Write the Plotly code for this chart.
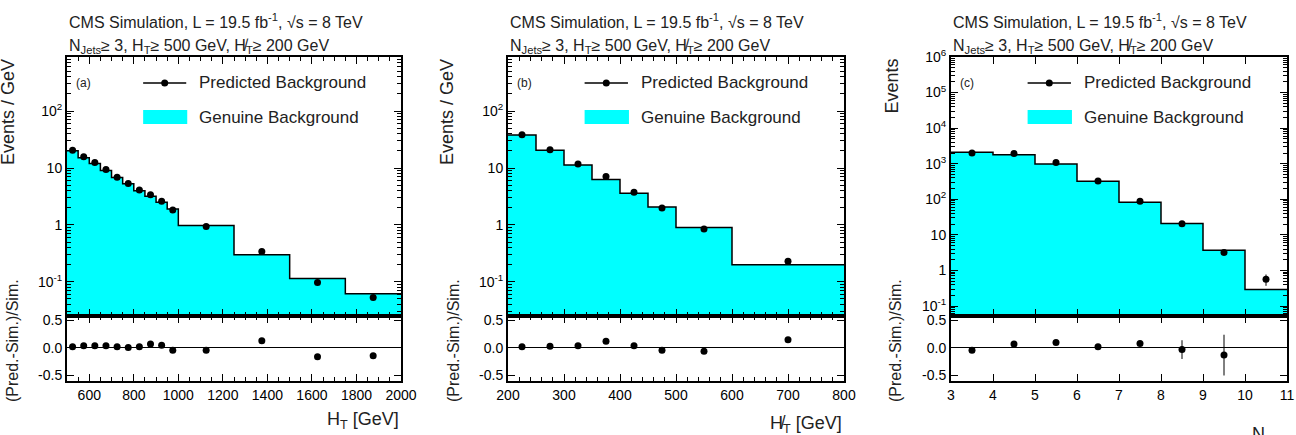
import numpy as np
import plotly.graph_objects as go

# ---------------- data ----------------
# Panel (a): H_T
ht_edges = [500, 550, 600, 650, 700, 750, 800, 850, 900, 950, 1000, 1250, 1500, 1750, 2000]
ht_genuine = [20, 15.2, 12.0, 9.0, 6.8, 5.3, 4.0, 3.2, 2.5, 1.9, 0.98, 0.30, 0.115, 0.062]
ht_predicted = [20.4, 15.8, 12.5, 9.4, 6.9, 5.35, 4.1, 3.4, 2.6, 1.82, 0.94, 0.34, 0.097, 0.053]
ht_pred_err = [0.3, 0.2, 0.2, 0.15, 0.1, 0.08, 0.06, 0.05, 0.04, 0.03, 0.01, 0.005, 0.002, 0.002]
ht_ratio = [0.02, 0.04, 0.04, 0.04, 0.02, 0.01, 0.02, 0.07, 0.05, -0.04, -0.04, 0.13, -0.16, -0.14]
ht_ratio_err = [0.01, 0.01, 0.01, 0.01, 0.01, 0.01, 0.01, 0.01, 0.01, 0.01, 0.01, 0.02, 0.04, 0.05]

# Panel (b): missing H_T
mht_edges = [200, 250, 300, 350, 400, 450, 500, 600, 800]
mht_genuine = [38, 20.4, 11.3, 6.3, 3.6, 2.07, 0.90, 0.20]
mht_predicted = [38.5, 20.9, 11.7, 7.1, 3.75, 1.99, 0.85, 0.23]
mht_pred_err = [0.4, 0.2, 0.1, 0.08, 0.04, 0.02, 0.01, 0.004]
mht_ratio = [0.02, 0.03, 0.04, 0.12, 0.04, -0.04, -0.06, 0.15]
mht_ratio_err = [0.01, 0.01, 0.01, 0.01, 0.01, 0.01, 0.01, 0.02]

# Panel (c): N_Jets
nj_edges = [3, 4, 5, 6, 7, 8, 9, 10, 11]
nj_genuine = [2100, 1800, 990, 320, 82, 21, 3.7, 0.29]
nj_predicted = [2000, 1930, 1090, 325, 88, 20.4, 3.2, 0.57]
nj_pred_err = [15, 15, 10, 5, 2, 1, 0.5, 0.2]
nj_ratio = [-0.04, 0.07, 0.10, 0.02, 0.08, -0.03, -0.13]
nj_ratio_err = [0.01, 0.01, 0.01, 0.01, 0.02, 0.17, 0.37]

y_ticks_ab = [0.1, 1, 10, 100]
y_ticktext_ab = ["10<sup>-1</sup>", "1", "10", "10<sup>2</sup>"]
y_ticks_c = [0.1, 1, 10, 100, 1e3, 1e4, 1e5, 1e6]
y_ticktext_c = ["10<sup>-1</sup>", "1", "10", "10<sup>2</sup>", "10<sup>3</sup>",
                "10<sup>4</sup>", "10<sup>5</sup>", "10<sup>6</sup>"]
ratio_ticks = [-0.5, 0.0, 0.5]
ratio_ticktext = ["-0.5", "0.0", "0.5"]

title1 = "CMS Simulation, L = 19.5 fb<sup>-1</sup>, \u221As = 8 TeV"
title2 = "N<sub>Jets</sub>\u2265 3, H<sub>T</sub>\u2265 500 GeV, H\u0338<sub>T</sub>\u2265 200 GeV"

FONT = "Liberation Sans, Arial, Helvetica, sans-serif"
CYAN = "#00ffff"

# ---------------- layout geometry ----------------
W, H = 1296, 435
def px(x):
    return x / W
def py(y):
    return (H - y) / H

xdomains = [[px(67), px(401)], [px(508), px(844)], [px(951), px(1287)]]
y_up = [py(316), py(57)]
y_lo = [py(381), py(316)]

panels = [
    dict(edges=ht_edges, gen=ht_genuine, pred=ht_predicted, perr=ht_pred_err,
         ratio=ht_ratio, rerr=ht_ratio_err, xr=[500, 2000], dtick=200, minor=50,
         yr=[-1.6, 2.95], yt=y_ticks_ab, ytt=y_ticktext_ab, tag="(a)",
         ytitle="Events / GeV", ytx=8, lytx=12),
    dict(edges=mht_edges, gen=mht_genuine, pred=mht_predicted, perr=mht_pred_err,
         ratio=mht_ratio, rerr=mht_ratio_err, xr=[200, 800], dtick=100, minor=20,
         yr=[-1.6, 2.95], yt=y_ticks_ab, ytt=y_ticktext_ab, tag="(b)",
         ytitle="Events / GeV", ytx=447, lytx=453),
    dict(edges=nj_edges, gen=nj_genuine, pred=nj_predicted, perr=nj_pred_err,
         ratio=nj_ratio, rerr=nj_ratio_err, xr=[3, 11], dtick=1, minor=None,
         yr=[-1.28, 6.0], yt=y_ticks_c, ytt=y_ticktext_c, tag="(c)",
         ytitle="Events", ytx=891, lytx=895),
]

log_minor = [m * 10.0 ** k for k in range(-2, 7) for m in range(2, 10)]

fig = go.Figure()
layout = dict(
    width=W, height=H, margin=dict(l=0, r=0, t=0, b=0, autoexpand=False),
    paper_bgcolor="white", plot_bgcolor="white",
    showlegend=False, bargap=0,
    font=dict(family=FONT, size=14, color="black"),
)
annotations = []
shapes = []

axis_common = dict(showline=True, linecolor="black", linewidth=2, mirror="allticks",
                   ticks="inside", ticklen=7, tickwidth=1, tickcolor="black",
                   showgrid=False, zeroline=False, automargin=False,
                   tickfont=dict(family=FONT, size=14, color="black"))

for i, p in enumerate(panels):
    up = 2 * i + 1
    lo = 2 * i + 2
    xu = "x" if up == 1 else f"x{up}"
    yu = "y" if up == 1 else f"y{up}"
    xl = f"x{lo}"
    yl = f"y{lo}"
    edges = np.array(p["edges"], dtype=float)
    centers = 0.5 * (edges[:-1] + edges[1:])
    widths = np.diff(edges)

    # genuine background histogram (fill)
    fig.add_trace(go.Bar(x=centers, y=p["gen"], width=widths, marker=dict(color=CYAN, line=dict(width=0)),
                         xaxis=xu, yaxis=yu))
    # outline
    fig.add_trace(go.Scatter(x=edges, y=list(p["gen"]) + [p["gen"][-1]], mode="lines",
                             line=dict(color="black", width=1.5, shape="hv"), xaxis=xu, yaxis=yu))
    # predicted points
    fig.add_trace(go.Scatter(x=centers, y=p["pred"], mode="markers",
                             marker=dict(color="black", size=7),
                             error_y=dict(type="data", array=p["perr"], color="black", thickness=1, width=0),
                             xaxis=xu, yaxis=yu))
    # ratio points
    nr = len(p["ratio"])
    fig.add_trace(go.Scatter(x=centers[:nr], y=p["ratio"], mode="markers",
                             marker=dict(color="black", size=7),
                             error_y=dict(type="data", array=p["rerr"], color="black", thickness=1, width=0),
                             xaxis=xl, yaxis=yl))

    minor_x = dict(ticks="inside", ticklen=4, tickcolor="black", dtick=p["minor"]) if p["minor"] else None
    xkey_u = "xaxis" if up == 1 else f"xaxis{up}"
    ykey_u = "yaxis" if up == 1 else f"yaxis{up}"
    xaxis_u = dict(axis_common, domain=xdomains[i], range=p["xr"], anchor=yu, dtick=p["dtick"],
                   showticklabels=False, matches=xl)
    xaxis_l = dict(axis_common, domain=xdomains[i], range=p["xr"], anchor=yl, dtick=p["dtick"])
    if minor_x:
        xaxis_u["minor"] = minor_x
        xaxis_l["minor"] = minor_x
    layout[xkey_u] = xaxis_u
    layout[f"xaxis{lo}"] = xaxis_l
    layout[ykey_u] = dict(axis_common, domain=y_up, type="log", range=p["yr"], anchor=xu,
                          tickmode="array", tickvals=p["yt"], ticktext=p["ytt"],
                          minor=dict(ticks="inside", ticklen=4, tickcolor="black",
                                     tickmode="array", tickvals=log_minor))
    layout[f"yaxis{lo}"] = dict(axis_common, domain=y_lo, range=[-0.6, 0.58], anchor=xl,
                                tickmode="array", tickvals=ratio_ticks, ticktext=ratio_ticktext,
                                zeroline=True, zerolinecolor="black", zerolinewidth=1)

    x0 = xdomains[i][0]
    # header lines
    annotations.append(dict(text=title1, x=x0, y=py(21), xref="paper", yref="paper",
                            xanchor="left", yanchor="middle", showarrow=False,
                            font=dict(size=16, color="#222")))
    annotations.append(dict(text=title2, x=x0, y=py(46), xref="paper", yref="paper",
                            xanchor="left", yanchor="middle", showarrow=False,
                            font=dict(size=16, color="#222")))
    # panel tag
    annotations.append(dict(text=p["tag"], x=0.02, y=0.90, xref=f"{xu} domain", yref=f"{yu} domain",
                            xanchor="left", yanchor="middle", showarrow=False,
                            font=dict(size=12, color="#222")))
    # legend
    shapes.append(dict(type="line", xref=f"{xu} domain", yref=f"{yu} domain",
                       x0=0.228, x1=0.357, y0=0.90, y1=0.90, line=dict(color="black", width=1.5)))
    shapes.append(dict(type="circle", xref=f"{xu} domain", yref=f"{yu} domain",
                       xsizemode="pixel", ysizemode="pixel", xanchor=0.2925, yanchor=0.90,
                       x0=-3.5, x1=3.5, y0=-3.5, y1=3.5, fillcolor="black", line=dict(width=0)))
    shapes.append(dict(type="rect", xref=f"{xu} domain", yref=f"{yu} domain",
                       x0=0.228, x1=0.36, y0=0.741, y1=0.795, fillcolor=CYAN, line=dict(width=0)))
    annotations.append(dict(text="Predicted Background", x=0.389, y=0.90, xref=f"{xu} domain",
                            yref=f"{yu} domain", xanchor="left", yanchor="middle", showarrow=False,
                            font=dict(size=17, color="#222")))
    annotations.append(dict(text="Genuine Background", x=0.389, y=0.768, xref=f"{xu} domain",
                            yref=f"{yu} domain", xanchor="left", yanchor="middle", showarrow=False,
                            font=dict(size=17, color="#222")))
    # y titles
    annotations.append(dict(text=p["ytitle"], x=px(p["ytx"]), y=py(57), xref="paper", yref="paper",
                            xanchor="center", yanchor="top", textangle=-90, showarrow=False,
                            font=dict(size=18, color="#222")))
    annotations.append(dict(text="(Pred.-Sim.)/Sim.", x=px(p["lytx"]), y=py(341), xref="paper", yref="paper",
                            xanchor="center", yanchor="middle", textangle=-90, showarrow=False,
                            font=dict(size=16, color="#222")))

# x titles
annotations.append(dict(text="H<sub>T</sub> [GeV]", x=px(401), y=py(420), xref="paper", yref="paper",
                        xanchor="right", yanchor="middle", showarrow=False, font=dict(size=18, color="#222")))
annotations.append(dict(text="H\u0338<sub>T</sub> [GeV]", x=px(844), y=py(424), xref="paper", yref="paper",
                        xanchor="right", yanchor="middle", showarrow=False, font=dict(size=18, color="#222")))
annotations.append(dict(text="N<sub>Jets</sub>", x=px(1250), y=py(422), xref="paper", yref="paper",
                        xanchor="left", yanchor="top", showarrow=False, font=dict(size=18, color="#222")))

layout["annotations"] = annotations
layout["shapes"] = shapes
fig.update_layout(**layout)
fig.write_html("out.html")
